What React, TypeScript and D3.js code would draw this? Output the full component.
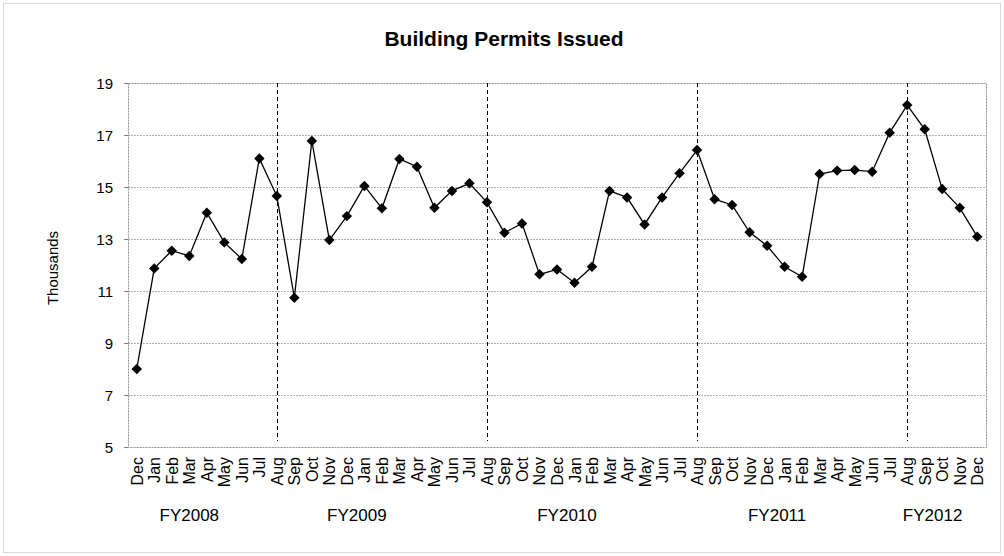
import React, { useEffect, useRef } from "react";
import * as d3 from "d3";

const months: string[] = [
  "Dec", "Jan", "Feb", "Mar", "Apr", "May", "Jun", "Jul",
  "Aug", "Sep", "Oct", "Nov", "Dec", "Jan", "Feb", "Mar", "Apr", "May", "Jun", "Jul",
  "Aug", "Sep", "Oct", "Nov", "Dec", "Jan", "Feb", "Mar", "Apr", "May", "Jun", "Jul",
  "Aug", "Sep", "Oct", "Nov", "Dec", "Jan", "Feb", "Mar", "Apr", "May", "Jun", "Jul",
  "Aug", "Sep", "Oct", "Nov", "Dec",
];

const permits: number[] = [
  8.0, 11.87, 12.55, 12.35, 14.01, 12.87, 12.23, 16.1,
  14.65, 10.74, 16.77, 12.96, 13.88, 15.04, 14.18, 16.08, 15.78, 14.2, 14.85, 15.14,
  14.41, 13.24, 13.6, 11.64, 11.83, 11.32, 11.93, 14.85, 14.6, 13.56, 14.6, 15.53,
  16.42, 14.53, 14.31, 13.26, 12.74, 11.93, 11.55, 15.5, 15.63, 15.65, 15.59, 17.09,
  18.15, 17.22, 14.92, 14.2, 13.09,
];

const yTicks: number[] = [5, 7, 9, 11, 13, 15, 17, 19];

// fiscal-year dividers (index of the August that starts each new FY)
const fyDividers: number[] = [8, 20, 32, 44];
const fyLabels: string[] = ["FY2008", "FY2009", "FY2010", "FY2011", "FY2012"];
const fyLabelCenters: number[] = [3.0, 12.57, 24.57, 36.57, 45.45];

const title = "Building Permits Issued";
const yTitle = "Thousands";

const W = 1004;
const H = 556;
const FONT = "'Liberation Sans', Arial, sans-serif";

export default function App() {
  const ref = useRef<SVGSVGElement | null>(null);

  useEffect(() => {
    const svg = d3.select(ref.current);
    svg.selectAll("*").remove();

    const left = 128, right = 986, top = 83, bottom = 447;

    const x = d3
      .scaleBand<number>()
      .domain(months.map((_, i) => i))
      .range([left, right])
      .paddingInner(0)
      .paddingOuter(0);
    const cx = (i: number) =>
      (x(Math.floor(i)) as number) + x.bandwidth() / 2 + (i - Math.floor(i)) * x.bandwidth();
    const y = d3.scaleLinear().domain([5, 19]).range([bottom, top]);

    // outer border
    svg
      .append("rect")
      .attr("x", 3.5)
      .attr("y", 3.5)
      .attr("width", W - 7)
      .attr("height", H - 7)
      .attr("fill", "none")
      .attr("stroke", "#b0b0b0")
      .attr("stroke-dasharray", "1,1");

    // title
    svg
      .append("text")
      .attr("x", 504)
      .attr("y", 46)
      .attr("text-anchor", "middle")
      .attr("font-family", FONT)
      .attr("font-weight", "bold")
      .attr("font-size", 21)
      .attr("fill", "#000")
      .text(title);

    // gridlines
    svg
      .append("g")
      .selectAll("line")
      .data(yTicks.filter((t) => t !== 5 && t !== 19))
      .join("line")
      .attr("x1", left)
      .attr("x2", right)
      .attr("y1", (d) => y(d) + 0.5)
      .attr("y2", (d) => y(d) + 0.5)
      .attr("stroke", "#b0b0b0")
      .attr("stroke-dasharray", "2,1");

    // plot border
    svg
      .append("rect")
      .attr("x", left + 0.5)
      .attr("y", top + 0.5)
      .attr("width", right - left)
      .attr("height", bottom - top)
      .attr("fill", "none")
      .attr("stroke", "#909090")
      .attr("stroke-dasharray", "2,1");

    // y axis ticks & labels
    const yAxis = svg.append("g");
    yAxis
      .selectAll("line")
      .data(yTicks)
      .join("line")
      .attr("x1", left - 4)
      .attr("x2", left)
      .attr("y1", (d) => y(d) + 0.5)
      .attr("y2", (d) => y(d) + 0.5)
      .attr("stroke", "#808080");
    yAxis
      .selectAll("text")
      .data(yTicks)
      .join("text")
      .attr("x", left - 15)
      .attr("y", (d) => y(d) + 5.5)
      .attr("text-anchor", "end")
      .attr("font-family", FONT)
      .attr("font-size", 15)
      .attr("fill", "#000")
      .text((d) => String(d));

    // y title
    svg
      .append("text")
      .attr("transform", `translate(58,${(top + bottom) / 2 + 3}) rotate(-90)`)
      .attr("text-anchor", "middle")
      .attr("font-family", FONT)
      .attr("font-size", 15)
      .attr("fill", "#000")
      .text(yTitle);

    // x labels
    svg
      .append("g")
      .selectAll("text")
      .data(months)
      .join("text")
      .attr("transform", (_, i) => `translate(${cx(i) + 6},${bottom + 10}) rotate(-90)`)
      .attr("text-anchor", "end")
      .attr("font-family", FONT)
      .attr("font-size", 16)
      .attr("fill", "#000")
      .text((d) => d);

    // FY labels
    svg
      .append("g")
      .selectAll("text")
      .data(fyLabels)
      .join("text")
      .attr("x", (_, i) => cx(fyLabelCenters[i]))
      .attr("y", 521)
      .attr("text-anchor", "middle")
      .attr("font-family", FONT)
      .attr("font-size", 17)
      .attr("fill", "#000")
      .text((d) => d);

    // FY dividers
    svg
      .append("g")
      .selectAll("line")
      .data(fyDividers)
      .join("line")
      .attr("x1", (d) => Math.round(cx(d)) + 0.5)
      .attr("x2", (d) => Math.round(cx(d)) + 0.5)
      .attr("y1", top)
      .attr("y2", bottom - 6)
      .attr("stroke", "#000")
      .attr("stroke-width", 1)
      .attr("stroke-dasharray", "4,3");

    // line
    const line = d3
      .line<number>()
      .x((_, i) => cx(i))
      .y((d) => y(d));
    svg
      .append("path")
      .datum(permits)
      .attr("d", line)
      .attr("fill", "none")
      .attr("stroke", "#000")
      .attr("stroke-width", 1.3);

    // markers (diamonds)
    svg
      .append("g")
      .selectAll("path")
      .data(permits)
      .join("path")
      .attr("transform", (d, i) => `translate(${cx(i)},${y(d)}) rotate(45)`)
      .attr("d", d3.symbol().type(d3.symbolSquare).size(55)() as string)
      .attr("fill", "#000");
  }, []);

  return (
    <svg
      ref={ref}
      width={W}
      height={H}
      style={{ position: "absolute", left: 0, top: 0, background: "#fff" }}
    />
  );
}
